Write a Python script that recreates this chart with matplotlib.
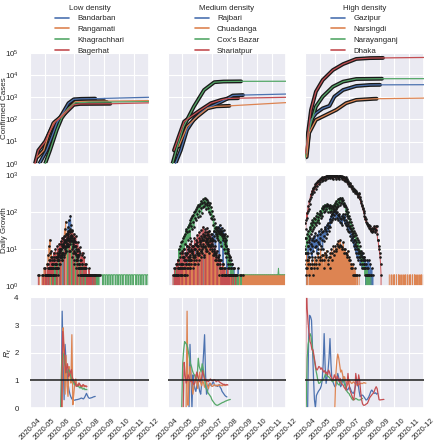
import numpy as np
import pandas as pd
import matplotlib
matplotlib.use("Agg")
import matplotlib.pyplot as plt
import matplotlib.dates as mdates
import matplotlib.ticker as mticker
import seaborn as sns

sns.set_theme(style="darkgrid")
plt.rcParams['font.family'] = ['Liberation Sans', 'DejaVu Sans']
plt.rcParams['mathtext.fontset'] = 'custom'
plt.rcParams['mathtext.rm'] = 'Liberation Sans'
plt.rcParams['mathtext.it'] = 'Liberation Sans:italic'

## groups of districts (legend order)
low_names = ["Bandarban", "Rangamati", "Khagrachhari", "Bagerhat"]
mid_names = ["Rajbari", "Chuadanga", "Cox's Bazar", "Shariatpur"]
high_names = ["Gazipur", "Narsingdi", "Narayanganj", "Dhaka"]
group_titles = ["Low density", "Medium density", "High density"]
x_start = "2020-04-01"
x_end = "2020-12-01"

## confirmed cases (observed points) and value reached at the end of the model line
bandarban_cum_dates = ['2020-04-20', '2020-05-05', '2020-05-16', '2020-05-26', '2020-06-05', '2020-06-19', '2020-06-30', '2020-07-15', '2020-08-13']
bandarban_cum = [1, 4, 17, 68, 160, 540, 810, 850, 870]
bandarban_dec = 1000
rangamati_cum_dates = ['2020-04-16', '2020-04-29', '2020-05-09', '2020-05-19', '2020-06-02', '2020-06-19', '2020-07-03', '2020-07-30', '2020-09-01']
rangamati_cum = [2, 4, 20, 68, 125, 316, 630, 660, 670]
rangamati_dec = 710
khagrachhari_cum_dates = ['2020-05-02', '2020-05-12', '2020-05-26', '2020-06-05', '2020-06-19', '2020-07-03', '2020-07-30', '2020-09-06']
khagrachhari_cum = [1, 4, 34, 115, 316, 560, 600, 610]
khagrachhari_dec = 640
bagerhat_cum_dates = ['2020-04-11', '2020-04-18', '2020-05-02', '2020-05-12', '2020-05-23', '2020-06-02', '2020-06-16', '2020-06-30', '2020-07-13', '2020-09-13']
bagerhat_cum = [1, 4, 10, 29, 80, 115, 230, 460, 500, 510]
bagerhat_dec = 560

rajbari_cum_dates = ['2020-04-17', '2020-04-28', '2020-05-11', '2020-05-25', '2020-06-08', '2020-06-22', '2020-07-06', '2020-07-20', '2020-08-03', '2020-08-13', '2020-09-03']
rajbari_cum = [1, 4, 34, 100, 200, 330, 450, 620, 900, 1200, 1260]
rajbari_dec = 1400
chuadanga_cum_dates = ['2020-04-24', '2020-05-11', '2020-06-01', '2020-06-22', '2020-07-10', '2020-08-06']
chuadanga_cum = [6, 48, 135, 316, 390, 410]
chuadanga_dec = 575
coxsbazar_cum_dates = ['2020-04-11', '2020-04-21', '2020-05-04', '2020-05-25', '2020-06-15', '2020-07-06', '2020-07-25', '2020-08-30']
coxsbazar_cum = [1, 6, 48, 380, 2140, 4800, 5150, 5250]
coxsbazar_dec = 5300
shariatpur_cum_dates = ['2020-04-14', '2020-04-24', '2020-05-05', '2020-05-19', '2020-06-08', '2020-06-29', '2020-07-20', '2020-08-04', '2020-08-24']
shariatpur_cum = [4, 17, 80, 135, 270, 540, 760, 890, 910]
shariatpur_dec = 1000

gazipur_cum_dates = ['2020-04-04', '2020-04-09', '2020-04-13', '2020-04-23', '2020-05-07', '2020-05-21', '2020-05-31', '2020-06-18', '2020-07-15', '2020-08-12', '2020-09-02']
gazipur_cum = [3, 30, 95, 190, 316, 410, 1070, 2140, 3240, 3600, 3650]
gazipur_dec = 3700
narsingdi_cum_dates = ['2020-04-04', '2020-04-09', '2020-04-23', '2020-05-14', '2020-06-04', '2020-06-24', '2020-07-15', '2020-08-19', '2020-08-26']
narsingdi_cum = [2, 24, 95, 160, 270, 540, 760, 850, 860]
narsingdi_dec = 920
narayanganj_cum_dates = ['2020-03-25', '2020-04-01', '2020-04-06', '2020-04-13', '2020-04-23', '2020-05-07', '2020-05-28', '2020-06-18', '2020-07-15', '2020-09-06']
narayanganj_cum = [1, 2, 20, 68, 380, 1070, 3000, 5100, 6700, 6900]
narayanganj_dec = 6950
dhaka_cum_dates = ['2020-03-20', '2020-04-01', '2020-04-04', '2020-04-08', '2020-04-13', '2020-04-23', '2020-05-07', '2020-05-28', '2020-06-18', '2020-07-15', '2020-08-12', '2020-09-08']
dhaka_cum = [1, 3, 7, 40, 270, 1800, 6000, 17000, 31600, 54000, 59000, 60000]
dhaka_dec = 63000

## daily growth, one value per day from the start date
bandarban_daily_start = '2020-05-01'
bandarban_daily = [2, 0, 0, 2, 0, 0, 2, 0, 3, 0, 2, 0, 0, 3, 2,
                   4, 0, 2, 3, 2, 5, 3, 0, 4, 2, 6, 3, 3, 5, 8,
                   4, 0, 10, 6, 7, 5, 8, 14, 0, 6, 12, 18, 11, 9, 15,
                   25, 12, 0, 40, 22, 60, 30, 20, 80, 45, 30, 0, 22, 15, 12,
                   9, 16, 8, 0, 10, 7, 6, 5, 7, 3, 0, 4, 3, 2, 2,
                   3, 0, 2, 0, 2, 3, 0, 2, 0, 2, 0, 2, 0, 0, 2,
                   0, 2, 0, 0, 2, 0, 0, 0, 2, 0, 0, 2, 0, 0, 2]
rangamati_daily_start = '2020-04-20'
rangamati_daily = [2, 0, 0, 0, 0, 0, 2, 0, 0, 0, 3, 0, 0, 2, 0,
                   0, 4, 3, 7, 5, 12, 8, 18, 0, 9, 6, 5, 4, 3, 2,
                   6, 0, 2, 3, 4, 3, 8, 5, 0, 6, 10, 7, 6, 9, 14,
                   0, 8, 12, 20, 14, 12, 18, 35, 22, 55, 25, 18, 0, 25, 14,
                   12, 9, 30, 16, 9, 0, 16, 10, 6, 8, 11, 5, 4, 0, 8,
                   5, 3, 4, 5, 0, 2, 3, 4, 0, 0, 2, 0, 0, 3, 0,
                   0, 2, 0, 0, 2, 0, 0, 0, 2, 0, 0, 0, 2, 0, 0]
khagrachhari_daily_start = '2020-05-10'
khagrachhari_daily = [2, 0, 0, 0, 0, 3, 0, 0, 0, 2, 0, 0, 4, 0, 0,
                      6, 0, 3, 3, 2, 8, 5, 4, 0, 10, 6, 5, 7, 12, 8,
                      7, 0, 15, 10, 9, 11, 20, 14, 12, 0, 28, 18, 16, 20, 35,
                      24, 22, 0, 30, 18, 14, 16, 20, 12, 8, 0, 12, 7, 5, 6,
                      7, 4, 3, 0, 5, 3, 2, 0, 4, 2, 0, 2, 0, 0, 3,
                      0, 0, 2, 0, 0, 2, 0, 0, 0, 2, 0, 0, 2, 0, 0,
                      0, 2, 0, 0, 2, 0, 0, 2, 0, 2, 0, 2, 0, 2, 2]
bagerhat_daily_start = '2020-04-18'
bagerhat_daily = [2, 0, 0, 0, 0, 0, 0, 0, 0, 0, 2, 0, 0,
                  0, 3, 2, 0, 2, 2, 4, 2, 0, 3, 2, 5, 3, 2, 3,
                  6, 3, 0, 4, 8, 5, 4, 10, 6, 4, 0, 12, 7, 5, 9,
                  14, 9, 0, 16, 10, 6, 20, 11, 11, 15, 22, 0, 8, 12, 18,
                  25, 14, 12, 20, 30, 18, 0, 28, 14, 22, 17, 32, 20, 16, 0,
                  26, 18, 12, 15, 22, 15, 9, 0, 15, 10, 7, 9, 11, 8, 0,
                  5, 7, 4, 8, 3, 0, 6, 4, 2, 3, 4, 3, 0, 2, 2,
                  0, 3, 2, 0, 2, 0, 0, 2, 0, 0, 0, 2, 0, 0, 2]

rajbari_daily_start = '2020-04-18'
rajbari_daily = [2, 0, 0, 0, 2, 0, 0, 3, 0, 0, 4, 0, 2, 3, 6, 0, 0, 3, 2, 8,
                 0, 4, 3, 2, 10, 0, 5, 4, 3, 0, 7, 5, 4, 0, 9, 6, 3, 5, 6, 4,
                 10, 0, 5, 8, 12, 7, 4, 7, 8, 0, 14, 9, 6, 8, 10, 12, 18, 0, 7, 11,
                 12, 9, 20, 14, 9, 0, 15, 12, 22, 13, 10, 16, 18, 0, 25, 20, 12, 17, 30, 22,
                 16, 0, 35, 28, 22, 25, 40, 30, 28, 0, 45, 35, 30, 26, 38, 25, 20, 0, 32, 24,
                 25, 16, 14, 12, 18, 0, 8, 9, 10, 7, 5, 6, 6, 0, 3, 4, 4, 0, 2, 3,
                 3, 0, 2, 0, 0, 2, 0, 0, 3, 0, 0, 2, 0, 0, 2, 0, 0, 0, 2, 0]
chuadanga_daily_start = '2020-04-23'
chuadanga_daily = [2, 0, 0, 3, 0, 0, 2, 0, 4, 0, 3, 2, 6, 0, 2, 5, 4, 8, 0, 4,
                   3, 6, 0, 3, 9, 5, 5, 0, 12, 8, 7, 0, 4, 10, 7, 6, 0, 14, 9, 8,
                   0, 12, 5, 10, 16, 0, 9, 12, 20, 0, 11, 14, 18, 6, 0, 24, 15, 10, 0, 28,
                   18, 14, 0, 30, 8, 12, 20, 0, 12, 9, 16, 0, 7, 8, 10, 0, 5, 6, 8, 0,
                   4, 5, 6, 0, 2, 3, 5, 0, 3, 2, 2, 0, 4, 2, 0, 2, 0, 3, 0, 2,
                   0, 0, 2, 0, 2, 0, 0, 2, 0, 2]
coxsbazar_daily_start = '2020-04-14'
coxsbazar_daily = [2, 0, 0, 3, 0, 2, 4, 0, 5, 3, 10, 4, 8, 12, 3, 15, 9, 16, 6, 20,
                   22, 10, 25, 14, 30, 34, 12, 28, 40, 18, 45, 30, 51, 20, 60, 42, 70, 35, 78, 55,
                   85, 40, 100, 70, 107, 60, 120, 90, 140, 75, 160, 110, 150, 80, 170, 130, 200, 95, 180, 140,
                   220, 150, 190, 245, 170, 230, 120, 210, 160, 180, 130, 190, 100, 160, 180, 90, 140, 70, 110, 63,
                   80, 45, 63, 30, 50, 37, 25, 40, 20, 33, 37, 18, 27, 30, 15, 25, 27, 12, 22, 30,
                   18, 25, 10, 22, 15, 8, 20, 12, 6, 22, 10, 4, 8, 3, 6, 4, 2, 5, 3, 2,
                   0, 3, 2, 0, 2, 2, 0, 2]
shariatpur_daily_start = '2020-04-12'
shariatpur_daily = [2, 0, 0, 3, 0, 2, 0, 4, 2, 0, 5, 3, 3, 0, 2, 6, 4, 2, 8, 0,
                    4, 6, 10, 5, 3, 5, 7, 0, 12, 8, 5, 6, 9, 11, 14, 0, 6, 10, 16, 9,
                    8, 12, 12, 0, 20, 14, 10, 13, 18, 15, 24, 0, 12, 20, 28, 17, 15, 22, 32, 0,
                    18, 25, 40, 21, 22, 28, 35, 0, 16, 24, 38, 19, 20, 26, 30, 0, 12, 18, 25, 14,
                    10, 14, 18, 0, 7, 9, 12, 8, 5, 7, 9, 0, 4, 6, 7, 5, 3, 4, 5, 0,
                    2, 3, 4, 0, 0, 3, 0, 2, 0, 0, 2, 0, 0, 3, 0, 0, 2, 0, 0, 0,
                    2, 0, 0, 0, 2, 0, 0, 0, 0, 2, 0, 0, 0]

gazipur_daily_start = '2020-04-02'
gazipur_daily = [2, 0, 5, 3, 8, 12, 6, 15, 20, 10, 14, 8, 18, 6, 12, 20, 9, 16, 22, 11,
                 27, 12, 18, 8, 24, 15, 10, 30, 14, 20, 25, 12, 34, 18, 28, 10, 30, 22, 16, 35,
                 40, 20, 30, 45, 25, 38, 50, 30, 42, 55, 65, 40, 78, 55, 90, 60, 100, 70, 118, 85,
                 110, 65, 95, 120, 70, 100, 85, 60, 78, 90, 55, 70, 50, 65, 80, 45, 70, 86, 60, 75,
                 50, 86, 45, 60, 41, 55, 35, 48, 30, 41, 28, 36, 22, 30, 18, 25, 20, 15, 22, 12,
                 18, 10, 14, 8, 12, 6, 10, 8, 5, 9, 6, 8, 4, 7, 5, 6, 3, 8, 5, 6,
                 4, 6, 3, 5, 0, 4, 2, 5, 0, 3, 5, 2, 0, 4, 2, 0, 3, 0, 2, 0]
narsingdi_daily_start = '2020-04-03'
narsingdi_daily = [3, 8, 0, 5, 4, 2, 6, 0, 4, 3, 3, 0, 5, 4, 2, 0, 4, 3, 6, 0,
                   5, 4, 3, 0, 8, 6, 4, 0, 6, 5, 10, 0, 5, 7, 7, 0, 3, 5, 8, 0,
                   6, 7, 9, 0, 4, 5, 6, 0, 3, 6, 8, 0, 10, 8, 5, 0, 12, 9, 7, 0,
                   12, 10, 9, 0, 14, 12, 16, 0, 11, 13, 18, 0, 12, 11, 10, 0, 15, 10, 8, 0,
                   10, 8, 8, 0, 6, 7, 9, 0, 6, 5, 5, 0, 4, 3, 3, 0, 4, 2, 2, 0,
                   3, 2, 2, 0, 0, 2, 0, 0, 0, 2]
narayanganj_daily_start = '2020-03-25'
narayanganj_daily = [1, 0, 2, 3, 5, 4, 8,
                     10, 20, 8, 15, 25, 12, 30, 22, 18, 35, 40, 25, 50, 30, 45, 60, 35, 55, 70, 40,
                     50, 65, 45, 80, 55, 96, 60, 75, 90, 50, 85, 110, 70, 96, 130, 80, 120, 145, 100, 140,
                     160, 110, 150, 120, 145, 170, 100, 160, 130, 150, 145, 100, 160, 130, 107, 150, 90, 140, 120, 160,
                     107, 150, 180, 130, 200, 140, 170, 220, 150, 190, 220, 160, 245, 180, 230, 200, 245, 170, 210, 150,
                     180, 145, 160, 110, 140, 90, 120, 78, 100, 70, 78, 55, 65, 41, 55, 35, 45, 30, 38, 27,
                     30, 22, 27, 18, 24, 15, 20, 12, 18, 10, 15, 8, 12, 6, 9, 5, 8, 4, 6, 3,
                     5, 3, 4, 2, 3, 2, 0, 3, 2, 0, 2, 0, 2, 0, 0, 2]
dhaka_daily_start = '2020-03-22'
dhaka_daily = [1, 0, 2, 0, 3, 5, 2, 8, 12, 20,
               50, 35, 60, 96, 70, 110, 150, 120, 200, 170, 230, 300, 250, 320, 380, 300, 420, 450, 360, 480,
               520, 570, 430, 600, 650, 520, 700, 680, 560, 740, 780, 640, 800, 830, 700, 870, 850, 720, 900, 880,
               760, 920, 950, 800, 940, 980, 850, 960, 1000, 870, 940, 1000, 820, 960, 980, 850, 1000, 950, 800, 980,
               1000, 870, 940, 990, 780, 960, 1000, 860, 920, 980, 800, 950, 1000, 880, 900, 960, 780, 920, 870, 720,
               900, 850, 700, 880, 800, 650, 780, 700, 560, 680, 630, 520, 600, 560, 480, 515, 420, 500, 440, 380,
               420, 370, 400, 330, 360, 370, 300, 330, 280, 250, 300, 330, 220, 260, 180, 200, 150, 160, 118, 130,
               95, 110, 80, 63, 75, 55, 63, 48, 52, 45, 41, 38, 45, 35, 41, 30, 34, 36, 28, 34,
               30, 38, 41, 35, 28, 41, 33, 41, 25, 18, 18, 12, 10, 8, 6, 4, 2, 0]

## later daily values (2 or 0), one digit per day
khagrachhari_tail_start = '2020-08-25'
khagrachhari_tail = "2222022220222202222022220222220222202222022220222220222202222022220222220222202222022220222220222202"
chuadanga_tail_start = '2020-08-10'
chuadanga_tail = "2220222022202220222022202220222022202220222022202220222022202220222022202220222022202220222022202220222022202220"
coxsbazar_tail_start = '2020-08-20'
coxsbazar_tail = "2202022222022222222222222222222222222222222222222222222222222222222222222222222222222223222222222222222"
narsingdi_tail_start = '2020-09-21'
narsingdi_tail = "2000200020020002000200200020002002000200020020002000200200020002002000200"

## R_t, one value every 2 days from the start date
bandarban_rt_start = '2020-06-04'
bandarban_rt = [0.0, 3.5, 1.8, 0.3, 2.3, 1.7, 1.3, 0.9, 0.66, 0.5, 0.4, 0.33, 0.3, 0.29, 0.28, 0.3, 0.3, 0.31,
                0.32, 0.33, 0.35, 0.36, 0.34, 0.33, 0.38, 0.45, 0.53, 0.45, 0.38, 0.35, 0.36, 0.37, 0.38, 0.4, 0.41, 0.42]
rangamati_rt_start = '2020-06-06'
rangamati_rt = [0.0, 2.9, 2.2, 0.5, 1.9, 0.8, 0.42, 1.5, 1.2, 0.9, 2.65, 0.12, 0.5, 0.9, 1.05, 0.85, 0.78, 0.9,
                0.84, 0.75, 0.8, 0.76, 0.82, 0.78, 0.8, 0.76]
khagrachhari_rt_start = '2020-06-03'
khagrachhari_rt = [0.0, 1.75, 2.0, 1.9, 1.6, 1.5, 1.3, 1.27, 1.4, 1.35, 1.2, 1.08, 1.0, 0.95, 0.84, 0.9, 0.8, 0.78,
                   0.82, 0.75, 0.72, 0.78, 0.7, 0.68, 0.72, 0.66, 0.68, 0.66]
bagerhat_rt_start = '2020-06-05'
bagerhat_rt = [0.0, 2.77, 2.3, 2.0, 1.27, 1.45, 1.6, 1.14, 1.2, 1.3, 1.39, 1.1, 1.02, 0.95, 0.9, 0.78, 0.84, 0.8,
               0.9, 0.84, 0.78, 0.8, 0.85, 0.82, 0.78, 0.8, 0.78]

rajbari_rt_start = '2020-05-15'
rajbari_rt = [0.0, 2.3, 1.2, 0.0, 1.2, 0.9, 0.7, 0.6, 0.8, 1.0, 0.8, 0.6, 0.5, 0.9, 1.4, 2.0, 2.65, 1.2, 0.5, 0.6,
              0.8, 0.9, 0.85, 0.8, 0.9, 0.95, 0.85, 0.8, 0.82, 0.78, 0.8, 0.85, 0.75, 0.7, 0.6, 0.55, 0.5, 0.45, 0.42, 0.4]
chuadanga_rt_start = '2020-05-09'
chuadanga_rt = [0.0, 3.5, 0.1, 1.0, 1.5, 1.2, 0.8, 0.5, 0.8, 1.0, 1.2, 0.9, 0.7, 1.1, 1.3, 0.9, 0.8, 1.0, 0.9, 0.75,
                0.85, 0.95, 0.8, 0.7, 0.85, 0.9, 0.8, 0.78, 0.8, 0.85, 0.82, 0.8, 0.83, 0.8, 0.84, 0.82, 0.83, 0.8,
                0.82, 0.83, 0.81, 0.83, 0.84]
coxsbazar_rt_start = '2020-04-30'
coxsbazar_rt = [0.0, 1.6, 2.1, 2.4, 2.35, 2.3, 2.2, 2.0, 1.8, 1.6, 1.5, 1.35, 1.25, 1.2, 1.1, 1.0, 1.2, 1.8, 1.5, 1.4,
                1.3, 1.6, 1.45, 1.2, 0.9, 0.7, 0.65, 0.55, 0.5, 0.45, 0.4, 0.3, 0.25, 0.2, 0.15, 0.12, 0.1, 0.1,
                0.12, 0.14, 0.16, 0.18, 0.2, 0.21, 0.23, 0.25, 0.26, 0.28, 0.29, 0.3, 0.31]
shariatpur_rt_start = '2020-05-03'
shariatpur_rt = [0.0, 1.65, 1.2, 0.9, 1.0, 1.2, 1.1, 1.0, 0.95, 1.0, 0.9, 0.85, 0.9, 1.1, 1.3, 1.15, 1.0, 0.95, 1.0,
                 1.1, 1.35, 1.2, 1.0, 1.05, 0.95, 1.0, 0.95, 1.0, 1.05, 1.0, 0.98, 1.0, 1.02, 1.0, 0.95, 0.98, 1.0,
                 0.95, 0.92, 0.9, 0.88, 0.85, 0.86, 0.84, 0.83, 0.85, 0.83]

gazipur_rt_start = '2020-04-06'
gazipur_rt = [0.0, 2.5, 3.35, 3.3, 3.17, 2.2, 1.13, 0.3, 0.0, 0.45, 0.53, 0.6, 0.65, 0.7, 0.8, 1.0, 1.6, 2.69,
              1.5, 0.89, 1.1, 1.37, 1.8, 2.51, 1.6, 1.0, 0.95, 0.85, 0.77, 0.8, 1.0, 1.25, 1.1, 0.9, 0.77, 0.85,
              1.0, 1.13, 1.0, 0.8, 0.7, 0.65, 0.7, 0.77, 0.7, 0.6, 0.55, 0.53, 0.6, 0.75, 0.9, 1.0, 0.85, 0.6,
              0.41, 0.45, 0.47, 0.45, 0.4, 0.35, 0.29, 0.3, 0.35, 0.41, 0.5, 0.6, 0.65, 0.6, 0.55, 0.53, 0.55, 0.5, 0.53]
narsingdi_rt_start = '2020-06-01'
narsingdi_rt = [0.0, 1.2, 1.7, 1.95, 1.8, 1.55, 1.3, 1.37, 1.2, 1.0, 1.13, 1.0, 0.9, 0.83, 0.9, 1.0, 0.95, 0.89,
                0.9, 0.95, 0.92, 0.88, 0.85, 0.83, 0.87, 0.85, 0.88, 0.9, 0.88, 0.9, 0.92, 0.9, 0.9]
narayanganj_rt_start = '2020-04-03'
narayanganj_rt = [0.0, 1.8, 2.3, 2.5, 2.69, 2.6, 2.3, 2.0, 1.8, 1.6, 1.37, 1.2, 1.0, 0.89, 0.9, 0.95, 1.0, 1.0,
                  1.05, 1.15, 1.25, 1.2, 1.15, 1.13, 1.1, 1.05, 1.0, 0.95, 0.98, 1.0, 1.02, 1.0, 0.9, 0.85, 0.83,
                  0.9, 0.95, 1.0, 1.0, 0.9, 0.8, 0.65, 0.6, 0.55, 0.53, 0.45, 0.4, 0.33, 0.29, 0.3, 0.32, 0.35,
                  0.33, 0.3, 0.29, 0.29, 0.3, 0.33, 0.35]
dhaka_rt_start = '2020-04-01'
dhaka_rt = [0.0, 5.0, 3.6, 3.05, 2.7, 2.4, 2.3, 2.1, 2.1, 1.9, 1.67, 1.45, 1.37, 1.42, 1.5, 1.48, 1.4, 1.45, 1.37,
            1.3, 1.35, 1.25, 1.3, 1.2, 1.37, 1.3, 1.15, 1.1, 1.0, 1.05, 1.2, 1.1, 1.0, 1.15, 1.05, 0.95, 1.07, 0.9,
            0.85, 0.83, 0.75, 0.7, 0.65, 0.85, 1.25, 0.9, 0.65, 0.55, 0.45, 0.35, 0.29, 0.6, 1.25, 1.0, 0.8, 1.2,
            1.0, 0.6, 0.3, 0.15, 0.1, 0.1, 0.12, 0.15, 0.17, 0.25, 0.35, 0.41, 0.45, 0.5, 0.53, 0.6, 0.7, 0.77,
            0.7, 0.5, 0.3, 0.29, 0.3, 0.3, 0.31, 0.31]

## tables built from the lists above
cum = {
    "Bandarban": (bandarban_cum_dates, bandarban_cum, bandarban_dec),
    "Rangamati": (rangamati_cum_dates, rangamati_cum, rangamati_dec),
    "Khagrachhari": (khagrachhari_cum_dates, khagrachhari_cum, khagrachhari_dec),
    "Bagerhat": (bagerhat_cum_dates, bagerhat_cum, bagerhat_dec),
    "Rajbari": (rajbari_cum_dates, rajbari_cum, rajbari_dec),
    "Chuadanga": (chuadanga_cum_dates, chuadanga_cum, chuadanga_dec),
    "Cox's Bazar": (coxsbazar_cum_dates, coxsbazar_cum, coxsbazar_dec),
    "Shariatpur": (shariatpur_cum_dates, shariatpur_cum, shariatpur_dec),
    "Gazipur": (gazipur_cum_dates, gazipur_cum, gazipur_dec),
    "Narsingdi": (narsingdi_cum_dates, narsingdi_cum, narsingdi_dec),
    "Narayanganj": (narayanganj_cum_dates, narayanganj_cum, narayanganj_dec),
    "Dhaka": (dhaka_cum_dates, dhaka_cum, dhaka_dec),
}
daily = {
    "Bandarban": (bandarban_daily_start, bandarban_daily),
    "Rangamati": (rangamati_daily_start, rangamati_daily),
    "Khagrachhari": (khagrachhari_daily_start, khagrachhari_daily),
    "Bagerhat": (bagerhat_daily_start, bagerhat_daily),
    "Rajbari": (rajbari_daily_start, rajbari_daily),
    "Chuadanga": (chuadanga_daily_start, chuadanga_daily),
    "Cox's Bazar": (coxsbazar_daily_start, coxsbazar_daily),
    "Shariatpur": (shariatpur_daily_start, shariatpur_daily),
    "Gazipur": (gazipur_daily_start, gazipur_daily),
    "Narsingdi": (narsingdi_daily_start, narsingdi_daily),
    "Narayanganj": (narayanganj_daily_start, narayanganj_daily),
    "Dhaka": (dhaka_daily_start, dhaka_daily),
}
tails = {
    "Khagrachhari": (khagrachhari_tail_start, khagrachhari_tail),
    "Chuadanga": (chuadanga_tail_start, chuadanga_tail),
    "Cox's Bazar": (coxsbazar_tail_start, coxsbazar_tail),
    "Narsingdi": (narsingdi_tail_start, narsingdi_tail),
}
rt = {
    "Bandarban": (bandarban_rt_start, bandarban_rt),
    "Rangamati": (rangamati_rt_start, rangamati_rt),
    "Khagrachhari": (khagrachhari_rt_start, khagrachhari_rt),
    "Bagerhat": (bagerhat_rt_start, bagerhat_rt),
    "Rajbari": (rajbari_rt_start, rajbari_rt),
    "Chuadanga": (chuadanga_rt_start, chuadanga_rt),
    "Cox's Bazar": (coxsbazar_rt_start, coxsbazar_rt),
    "Shariatpur": (shariatpur_rt_start, shariatpur_rt),
    "Gazipur": (gazipur_rt_start, gazipur_rt),
    "Narsingdi": (narsingdi_rt_start, narsingdi_rt),
    "Narayanganj": (narayanganj_rt_start, narayanganj_rt),
    "Dhaka": (dhaka_rt_start, dhaka_rt),
}

fs = 5.7
colors = sns.color_palette("deep")[:4]

fig, axes = plt.subplots(3, 3, figsize=(4.36, 4.40), dpi=100, sharex=True, sharey='row')
fig.subplots_adjust(left=0.069, right=0.972, top=0.8795, bottom=0.0727, wspace=0.16, hspace=0.104)

for j, names in enumerate([low_names, mid_names, high_names]):
    ax1, ax2, ax3 = axes[:, j]

    ## confirmed cases: black observed, coloured line running on to december
    for name in names:
        d, v, _ = cum[name]
        ax1.plot(pd.to_datetime(d), v, color='k', lw=2.8, zorder=2)
    for k, name in enumerate(names):
        d, v, last = cum[name]
        dd = list(pd.to_datetime(d)) + [pd.Timestamp(x_end)]
        ax1.plot(dd, v + [last], color=colors[k], lw=0.9, zorder=3, label=name)
    ax1.set_yscale('log')
    ax1.set_ylim(1, 1e5)
    leg = ax1.legend(title=group_titles[j], loc='lower center', bbox_to_anchor=(0.5, 0.975),
                     frameon=False, fontsize=fs, title_fontsize=fs, handlelength=1.8,
                     handletextpad=1.0, labelspacing=0.42, borderaxespad=0.0, borderpad=0.1)
    for h in leg.get_lines():
        h.set_linewidth(1.2)

    ## daily growth
    for k, name in enumerate(names):
        s, v = daily[name]
        ax2.plot(pd.date_range(s, periods=len(v)), v, color=colors[k], lw=0.7, zorder=2)
        if name in tails:
            ts, tv = tails[name]
            tv = [int(c) for c in tv]
            ax2.plot(pd.date_range(ts, periods=len(tv)), tv, color=colors[k], lw=0.7, zorder=2)
    for name in names:
        s, v = daily[name]
        d = pd.date_range(s, periods=len(v))
        v = np.array(v, dtype=float)
        m = v > 0
        ax2.plot(d[m], v[m], 'o', color='k', ms=1.9, mew=0, zorder=4)
    ax2.set_yscale('log')
    ax2.set_ylim(1, 1e3)

    ## R_t
    for k, name in enumerate(names):
        s, v = rt[name]
        ax3.plot(pd.date_range(s, periods=len(v), freq='2D'), v, color=colors[k], lw=0.9, zorder=2)
    ax3.axhline(1, color='k', lw=1.1, zorder=4)
    ax3.set_ylim(0, 4)
    ax3.set_yticks([0, 1, 2, 3, 4])

for ax in axes.flat:
    ax.set_xlim(pd.Timestamp(x_start), pd.Timestamp(x_end))
    ax.grid(True, color='white', lw=0.8)
    ax.tick_params(axis='y', labelsize=fs, pad=2.2)
    ax.tick_params(axis='x', labelsize=fs - 0.2, pad=0.5)
for ax in axes[:2].flat:
    ax.yaxis.set_minor_locator(mticker.NullLocator())

axes[2, 0].xaxis.set_major_locator(mdates.MonthLocator())
axes[2, 0].xaxis.set_major_formatter(mdates.DateFormatter('%Y-%m'))
for ax in axes[2]:
    plt.setp(ax.get_xticklabels(), rotation=45, ha='center')

axes[0, 0].set_ylabel("Confirmed Cases", fontsize=fs + 0.1)
axes[1, 0].set_ylabel("Daily Growth", fontsize=fs + 0.1)
axes[2, 0].set_ylabel("$R_t$", fontsize=fs + 0.5)
axes[0, 0].yaxis.set_label_coords(-0.19, 0.5)
axes[1, 0].yaxis.set_label_coords(-0.19, 0.5)
axes[2, 0].yaxis.set_label_coords(-0.135, 0.5)

fig.savefig("out.png", dpi=100)
